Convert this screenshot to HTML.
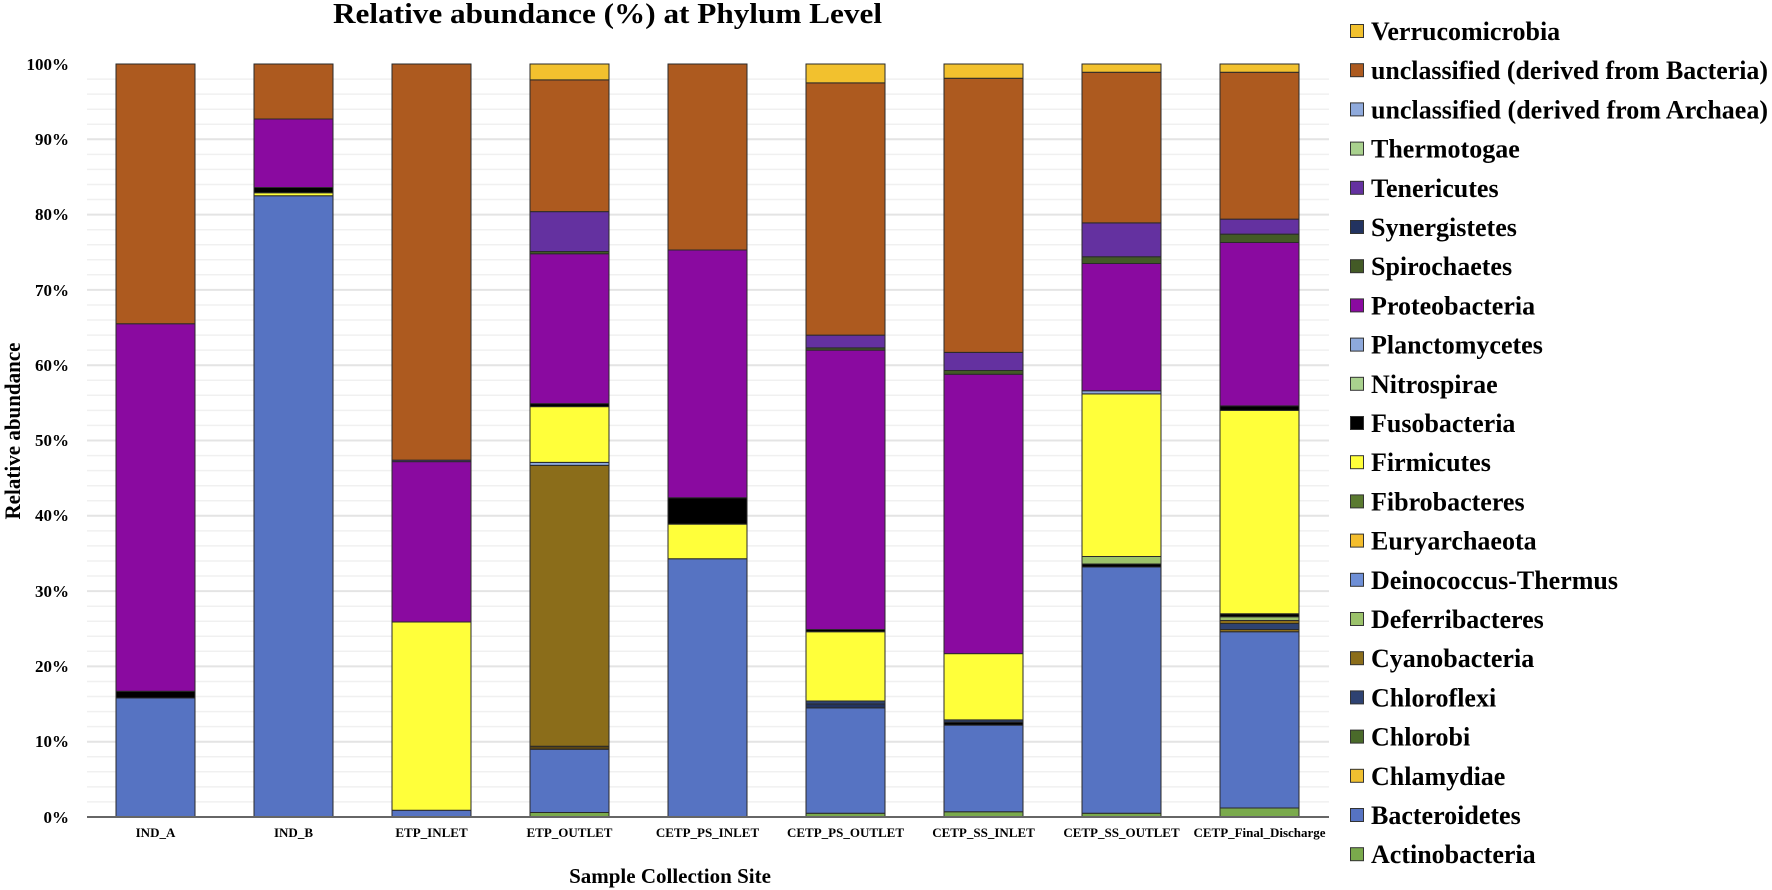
<!DOCTYPE html>
<html><head><meta charset="utf-8"><style>
html,body{margin:0;padding:0;background:#fff;}
svg{display:block;}
text{font-family:"Liberation Serif",serif;font-weight:bold;fill:#000;}
</style></head><body>
<svg width="1772" height="890" viewBox="0 0 1772 890" xmlns="http://www.w3.org/2000/svg">
<text x="333" y="23" font-size="28" textLength="549" lengthAdjust="spacingAndGlyphs">Relative abundance (%) at Phylum Level</text>
<g stroke="#f0f0f0" stroke-width="1.5">
<line x1="87" x2="1329" y1="79.1" y2="79.1"/><line x1="87" x2="1329" y1="94.1" y2="94.1"/><line x1="87" x2="1329" y1="109.2" y2="109.2"/><line x1="87" x2="1329" y1="124.2" y2="124.2"/>
<line x1="87" x2="1329" y1="154.4" y2="154.4"/><line x1="87" x2="1329" y1="169.4" y2="169.4"/><line x1="87" x2="1329" y1="184.5" y2="184.5"/><line x1="87" x2="1329" y1="199.5" y2="199.5"/>
<line x1="87" x2="1329" y1="229.7" y2="229.7"/><line x1="87" x2="1329" y1="244.7" y2="244.7"/><line x1="87" x2="1329" y1="259.8" y2="259.8"/><line x1="87" x2="1329" y1="274.8" y2="274.8"/>
<line x1="87" x2="1329" y1="305.0" y2="305.0"/><line x1="87" x2="1329" y1="320.0" y2="320.0"/><line x1="87" x2="1329" y1="335.1" y2="335.1"/><line x1="87" x2="1329" y1="350.1" y2="350.1"/>
<line x1="87" x2="1329" y1="380.3" y2="380.3"/><line x1="87" x2="1329" y1="395.3" y2="395.3"/><line x1="87" x2="1329" y1="410.4" y2="410.4"/><line x1="87" x2="1329" y1="425.4" y2="425.4"/>
<line x1="87" x2="1329" y1="455.6" y2="455.6"/><line x1="87" x2="1329" y1="470.6" y2="470.6"/><line x1="87" x2="1329" y1="485.7" y2="485.7"/><line x1="87" x2="1329" y1="500.7" y2="500.7"/>
<line x1="87" x2="1329" y1="530.9" y2="530.9"/><line x1="87" x2="1329" y1="545.9" y2="545.9"/><line x1="87" x2="1329" y1="561.0" y2="561.0"/><line x1="87" x2="1329" y1="576.0" y2="576.0"/>
<line x1="87" x2="1329" y1="606.2" y2="606.2"/><line x1="87" x2="1329" y1="621.2" y2="621.2"/><line x1="87" x2="1329" y1="636.3" y2="636.3"/><line x1="87" x2="1329" y1="651.3" y2="651.3"/>
<line x1="87" x2="1329" y1="681.5" y2="681.5"/><line x1="87" x2="1329" y1="696.5" y2="696.5"/><line x1="87" x2="1329" y1="711.6" y2="711.6"/><line x1="87" x2="1329" y1="726.6" y2="726.6"/>
<line x1="87" x2="1329" y1="756.8" y2="756.8"/><line x1="87" x2="1329" y1="771.8" y2="771.8"/><line x1="87" x2="1329" y1="786.9" y2="786.9"/><line x1="87" x2="1329" y1="801.9" y2="801.9"/>
</g>
<g stroke="#e4e4e4" stroke-width="2">
<line x1="87" x2="1329" y1="139.3" y2="139.3"/><line x1="87" x2="1329" y1="214.6" y2="214.6"/><line x1="87" x2="1329" y1="289.9" y2="289.9"/><line x1="87" x2="1329" y1="365.2" y2="365.2"/><line x1="87" x2="1329" y1="440.5" y2="440.5"/><line x1="87" x2="1329" y1="515.8" y2="515.8"/><line x1="87" x2="1329" y1="591.1" y2="591.1"/><line x1="87" x2="1329" y1="666.4" y2="666.4"/><line x1="87" x2="1329" y1="741.7" y2="741.7"/>
</g>
<g font-size="17" text-anchor="end">
<text x="69" y="70">100%</text><text x="69" y="145">90%</text><text x="69" y="220">80%</text><text x="69" y="296">70%</text><text x="69" y="371">60%</text><text x="69" y="446">50%</text><text x="69" y="521">40%</text><text x="69" y="597">30%</text><text x="69" y="672">20%</text><text x="69" y="747">10%</text><text x="69" y="823">0%</text>
</g>
<g transform="translate(0,817) scale(1,-7.53)" stroke="#2a2a2a" stroke-width="1">
<rect x="116" y="0" width="79" height="15.8" fill="#5673C2" vector-effect="non-scaling-stroke"/>
<rect x="116" y="15.8" width="79" height="0.9" fill="#000" vector-effect="non-scaling-stroke"/>
<rect x="116" y="16.7" width="79" height="48.8" fill="#8A0AA0" vector-effect="non-scaling-stroke"/>
<rect x="116" y="65.5" width="79" height="34.5" fill="#AD5A1F" vector-effect="non-scaling-stroke"/>
<rect x="254" y="0" width="79" height="82.5" fill="#5673C2" vector-effect="non-scaling-stroke"/>
<rect x="254" y="82.5" width="79" height="0.4" fill="#FFFF3A" vector-effect="non-scaling-stroke"/>
<rect x="254" y="82.9" width="79" height="0.7" fill="#000" vector-effect="non-scaling-stroke"/>
<rect x="254" y="83.6" width="79" height="9.1" fill="#8A0AA0" vector-effect="non-scaling-stroke"/>
<rect x="254" y="92.7" width="79" height="7.3" fill="#AD5A1F" vector-effect="non-scaling-stroke"/>
<rect x="392" y="0" width="79" height="0.9" fill="#5673C2" vector-effect="non-scaling-stroke"/>
<rect x="392" y="0.9" width="79" height="25.0" fill="#FFFF3A" vector-effect="non-scaling-stroke"/>
<rect x="392" y="25.9" width="79" height="21.3" fill="#8A0AA0" vector-effect="non-scaling-stroke"/>
<rect x="392" y="47.2" width="79" height="0.2" fill="#6431A0" vector-effect="non-scaling-stroke"/>
<rect x="392" y="47.4" width="79" height="52.6" fill="#AD5A1F" vector-effect="non-scaling-stroke"/>
<rect x="530" y="0" width="79" height="0.6" fill="#7AAA4C" vector-effect="non-scaling-stroke"/>
<rect x="530" y="0.6" width="79" height="8.4" fill="#5673C2" vector-effect="non-scaling-stroke"/>
<rect x="530" y="9.0" width="79" height="0.4" fill="#5a4512" vector-effect="non-scaling-stroke"/>
<rect x="530" y="9.4" width="79" height="37.3" fill="#8B6D1A" vector-effect="non-scaling-stroke"/>
<rect x="530" y="46.7" width="79" height="0.4" fill="#8EA9DB" vector-effect="non-scaling-stroke"/>
<rect x="530" y="47.1" width="79" height="7.4" fill="#FFFF3A" vector-effect="non-scaling-stroke"/>
<rect x="530" y="54.5" width="79" height="0.4" fill="#000" vector-effect="non-scaling-stroke"/>
<rect x="530" y="54.9" width="79" height="19.9" fill="#8A0AA0" vector-effect="non-scaling-stroke"/>
<rect x="530" y="74.8" width="79" height="0.3" fill="#435A26" vector-effect="non-scaling-stroke"/>
<rect x="530" y="75.1" width="79" height="5.3" fill="#6431A0" vector-effect="non-scaling-stroke"/>
<rect x="530" y="80.4" width="79" height="17.5" fill="#AD5A1F" vector-effect="non-scaling-stroke"/>
<rect x="530" y="97.9" width="79" height="2.1" fill="#F2C12E" vector-effect="non-scaling-stroke"/>
<rect x="668" y="0" width="79" height="34.3" fill="#5673C2" vector-effect="non-scaling-stroke"/>
<rect x="668" y="34.3" width="79" height="4.6" fill="#FFFF3A" vector-effect="non-scaling-stroke"/>
<rect x="668" y="38.9" width="79" height="3.5" fill="#000" vector-effect="non-scaling-stroke"/>
<rect x="668" y="42.4" width="79" height="32.9" fill="#8A0AA0" vector-effect="non-scaling-stroke"/>
<rect x="668" y="75.3" width="79" height="24.7" fill="#AD5A1F" vector-effect="non-scaling-stroke"/>
<rect x="806" y="0" width="79" height="0.5" fill="#7AAA4C" vector-effect="non-scaling-stroke"/>
<rect x="806" y="0.5" width="79" height="14.0" fill="#5673C2" vector-effect="non-scaling-stroke"/>
<rect x="806" y="14.5" width="79" height="0.5" fill="#223360" vector-effect="non-scaling-stroke"/>
<rect x="806" y="15.0" width="79" height="0.4" fill="#2E4272" vector-effect="non-scaling-stroke"/>
<rect x="806" y="15.4" width="79" height="9.2" fill="#FFFF3A" vector-effect="non-scaling-stroke"/>
<rect x="806" y="24.6" width="79" height="0.3" fill="#000" vector-effect="non-scaling-stroke"/>
<rect x="806" y="24.9" width="79" height="37.1" fill="#8A0AA0" vector-effect="non-scaling-stroke"/>
<rect x="806" y="62.0" width="79" height="0.3" fill="#435A26" vector-effect="non-scaling-stroke"/>
<rect x="806" y="62.3" width="79" height="1.7" fill="#6431A0" vector-effect="non-scaling-stroke"/>
<rect x="806" y="64.0" width="79" height="33.5" fill="#AD5A1F" vector-effect="non-scaling-stroke"/>
<rect x="806" y="97.5" width="79" height="2.5" fill="#F2C12E" vector-effect="non-scaling-stroke"/>
<rect x="944" y="0" width="79" height="0.7" fill="#7AAA4C" vector-effect="non-scaling-stroke"/>
<rect x="944" y="0.7" width="79" height="11.5" fill="#5673C2" vector-effect="non-scaling-stroke"/>
<rect x="944" y="12.2" width="79" height="0.4" fill="#000" vector-effect="non-scaling-stroke"/>
<rect x="944" y="12.6" width="79" height="0.3" fill="#2E4272" vector-effect="non-scaling-stroke"/>
<rect x="944" y="12.9" width="79" height="8.8" fill="#FFFF3A" vector-effect="non-scaling-stroke"/>
<rect x="944" y="21.7" width="79" height="37.1" fill="#8A0AA0" vector-effect="non-scaling-stroke"/>
<rect x="944" y="58.8" width="79" height="0.5" fill="#435A26" vector-effect="non-scaling-stroke"/>
<rect x="944" y="59.3" width="79" height="2.4" fill="#6431A0" vector-effect="non-scaling-stroke"/>
<rect x="944" y="61.7" width="79" height="36.4" fill="#AD5A1F" vector-effect="non-scaling-stroke"/>
<rect x="944" y="98.1" width="79" height="1.9" fill="#F2C12E" vector-effect="non-scaling-stroke"/>
<rect x="1082" y="0" width="79" height="0.5" fill="#7AAA4C" vector-effect="non-scaling-stroke"/>
<rect x="1082" y="0.5" width="79" height="32.7" fill="#5673C2" vector-effect="non-scaling-stroke"/>
<rect x="1082" y="33.2" width="79" height="0.4" fill="#000" vector-effect="non-scaling-stroke"/>
<rect x="1082" y="33.6" width="79" height="1.0" fill="#9BC26B" vector-effect="non-scaling-stroke"/>
<rect x="1082" y="34.6" width="79" height="21.6" fill="#FFFF3A" vector-effect="non-scaling-stroke"/>
<rect x="1082" y="56.2" width="79" height="0.4" fill="#8EA9DB" vector-effect="non-scaling-stroke"/>
<rect x="1082" y="56.6" width="79" height="16.9" fill="#8A0AA0" vector-effect="non-scaling-stroke"/>
<rect x="1082" y="73.5" width="79" height="0.9" fill="#435A26" vector-effect="non-scaling-stroke"/>
<rect x="1082" y="74.4" width="79" height="4.5" fill="#6431A0" vector-effect="non-scaling-stroke"/>
<rect x="1082" y="78.9" width="79" height="20.0" fill="#AD5A1F" vector-effect="non-scaling-stroke"/>
<rect x="1082" y="98.9" width="79" height="1.1" fill="#F2C12E" vector-effect="non-scaling-stroke"/>
<rect x="1220" y="0" width="79" height="1.2" fill="#7AAA4C" vector-effect="non-scaling-stroke"/>
<rect x="1220" y="1.2" width="79" height="23.4" fill="#5673C2" vector-effect="non-scaling-stroke"/>
<rect x="1220" y="24.6" width="79" height="0.3" fill="#8B6D1A" vector-effect="non-scaling-stroke"/>
<rect x="1220" y="24.9" width="79" height="0.8" fill="#2E4272" vector-effect="non-scaling-stroke"/>
<rect x="1220" y="25.7" width="79" height="0.4" fill="#8B6D1A" vector-effect="non-scaling-stroke"/>
<rect x="1220" y="26.1" width="79" height="0.5" fill="#9BC26B" vector-effect="non-scaling-stroke"/>
<rect x="1220" y="26.6" width="79" height="0.4" fill="#000" vector-effect="non-scaling-stroke"/>
<rect x="1220" y="27.0" width="79" height="27.0" fill="#FFFF3A" vector-effect="non-scaling-stroke"/>
<rect x="1220" y="54.0" width="79" height="0.6" fill="#000" vector-effect="non-scaling-stroke"/>
<rect x="1220" y="54.6" width="79" height="21.7" fill="#8A0AA0" vector-effect="non-scaling-stroke"/>
<rect x="1220" y="76.3" width="79" height="1.1" fill="#435A26" vector-effect="non-scaling-stroke"/>
<rect x="1220" y="77.4" width="79" height="2.0" fill="#6431A0" vector-effect="non-scaling-stroke"/>
<rect x="1220" y="79.4" width="79" height="19.5" fill="#AD5A1F" vector-effect="non-scaling-stroke"/>
<rect x="1220" y="98.9" width="79" height="1.1" fill="#F2C12E" vector-effect="non-scaling-stroke"/>
</g>
<line x1="87" x2="1329" y1="817" y2="817" stroke="#666" stroke-width="2"/>
<g font-size="13" text-anchor="middle">
<text x="155.5" y="837">IND_A</text><text x="293.5" y="837">IND_B</text><text x="431.5" y="837">ETP_INLET</text><text x="569.5" y="837">ETP_OUTLET</text><text x="707.5" y="837">CETP_PS_INLET</text><text x="845.5" y="837">CETP_PS_OUTLET</text><text x="983.5" y="837">CETP_SS_INLET</text><text x="1121.5" y="837">CETP_SS_OUTLET</text><text x="1259.5" y="837" textLength="132" lengthAdjust="spacingAndGlyphs">CETP_Final_Discharge</text>
</g>
<text x="670" y="883" font-size="21" text-anchor="middle">Sample Collection Site</text>
<text transform="translate(20,431) rotate(-90)" font-size="22" text-anchor="middle" textLength="177" lengthAdjust="spacingAndGlyphs">Relative abundance</text>
<g stroke="#333" stroke-width="1">
<rect x="1350.5" y="24.5" width="13" height="13" fill="#F2C12E"/>
<rect x="1350.5" y="63.7" width="13" height="13" fill="#AD5A1F"/>
<rect x="1350.5" y="102.9" width="13" height="13" fill="#8FAADC"/>
<rect x="1350.5" y="142.1" width="13" height="13" fill="#A9D18E"/>
<rect x="1350.5" y="181.3" width="13" height="13" fill="#6431A0"/>
<rect x="1350.5" y="220.5" width="13" height="13" fill="#223360"/>
<rect x="1350.5" y="259.7" width="13" height="13" fill="#435A26"/>
<rect x="1350.5" y="298.9" width="13" height="13" fill="#8A0AA0"/>
<rect x="1350.5" y="338.1" width="13" height="13" fill="#8EA9DB"/>
<rect x="1350.5" y="377.3" width="13" height="13" fill="#A9D18E"/>
<rect x="1350.5" y="416.5" width="13" height="13" fill="#000"/>
<rect x="1350.5" y="455.7" width="13" height="13" fill="#FFFF3A"/>
<rect x="1350.5" y="494.9" width="13" height="13" fill="#5a7a30"/>
<rect x="1350.5" y="534.1" width="13" height="13" fill="#F3BD2D"/>
<rect x="1350.5" y="573.3" width="13" height="13" fill="#6E8FD6"/>
<rect x="1350.5" y="612.5" width="13" height="13" fill="#9BC26B"/>
<rect x="1350.5" y="651.7" width="13" height="13" fill="#8B6D1A"/>
<rect x="1350.5" y="690.9" width="13" height="13" fill="#2E4272"/>
<rect x="1350.5" y="730.1" width="13" height="13" fill="#4a6a2a"/>
<rect x="1350.5" y="769.3" width="13" height="13" fill="#F0C030"/>
<rect x="1350.5" y="808.5" width="13" height="13" fill="#5673C2"/>
<rect x="1350.5" y="847.7" width="13" height="13" fill="#7AAA4C"/>
</g>
<g font-size="26">
<text x="1371" y="40">Verrucomicrobia</text>
<text x="1371" y="79.2" textLength="397" lengthAdjust="spacingAndGlyphs">unclassified (derived from Bacteria)</text>
<text x="1371" y="118.4" textLength="397" lengthAdjust="spacingAndGlyphs">unclassified (derived from Archaea)</text>
<text x="1371" y="157.6">Thermotogae</text>
<text x="1371" y="196.8">Tenericutes</text>
<text x="1371" y="236">Synergistetes</text>
<text x="1371" y="275.2">Spirochaetes</text>
<text x="1371" y="314.4">Proteobacteria</text>
<text x="1371" y="353.6">Planctomycetes</text>
<text x="1371" y="392.8">Nitrospirae</text>
<text x="1371" y="432">Fusobacteria</text>
<text x="1371" y="471.2">Firmicutes</text>
<text x="1371" y="510.4">Fibrobacteres</text>
<text x="1371" y="549.6">Euryarchaeota</text>
<text x="1371" y="588.8">Deinococcus-Thermus</text>
<text x="1371" y="628">Deferribacteres</text>
<text x="1371" y="667.2">Cyanobacteria</text>
<text x="1371" y="706.4">Chloroflexi</text>
<text x="1371" y="745.6">Chlorobi</text>
<text x="1371" y="784.8">Chlamydiae</text>
<text x="1371" y="824">Bacteroidetes</text>
<text x="1371" y="863.2">Actinobacteria</text>
</g>
</svg>
</body></html>
